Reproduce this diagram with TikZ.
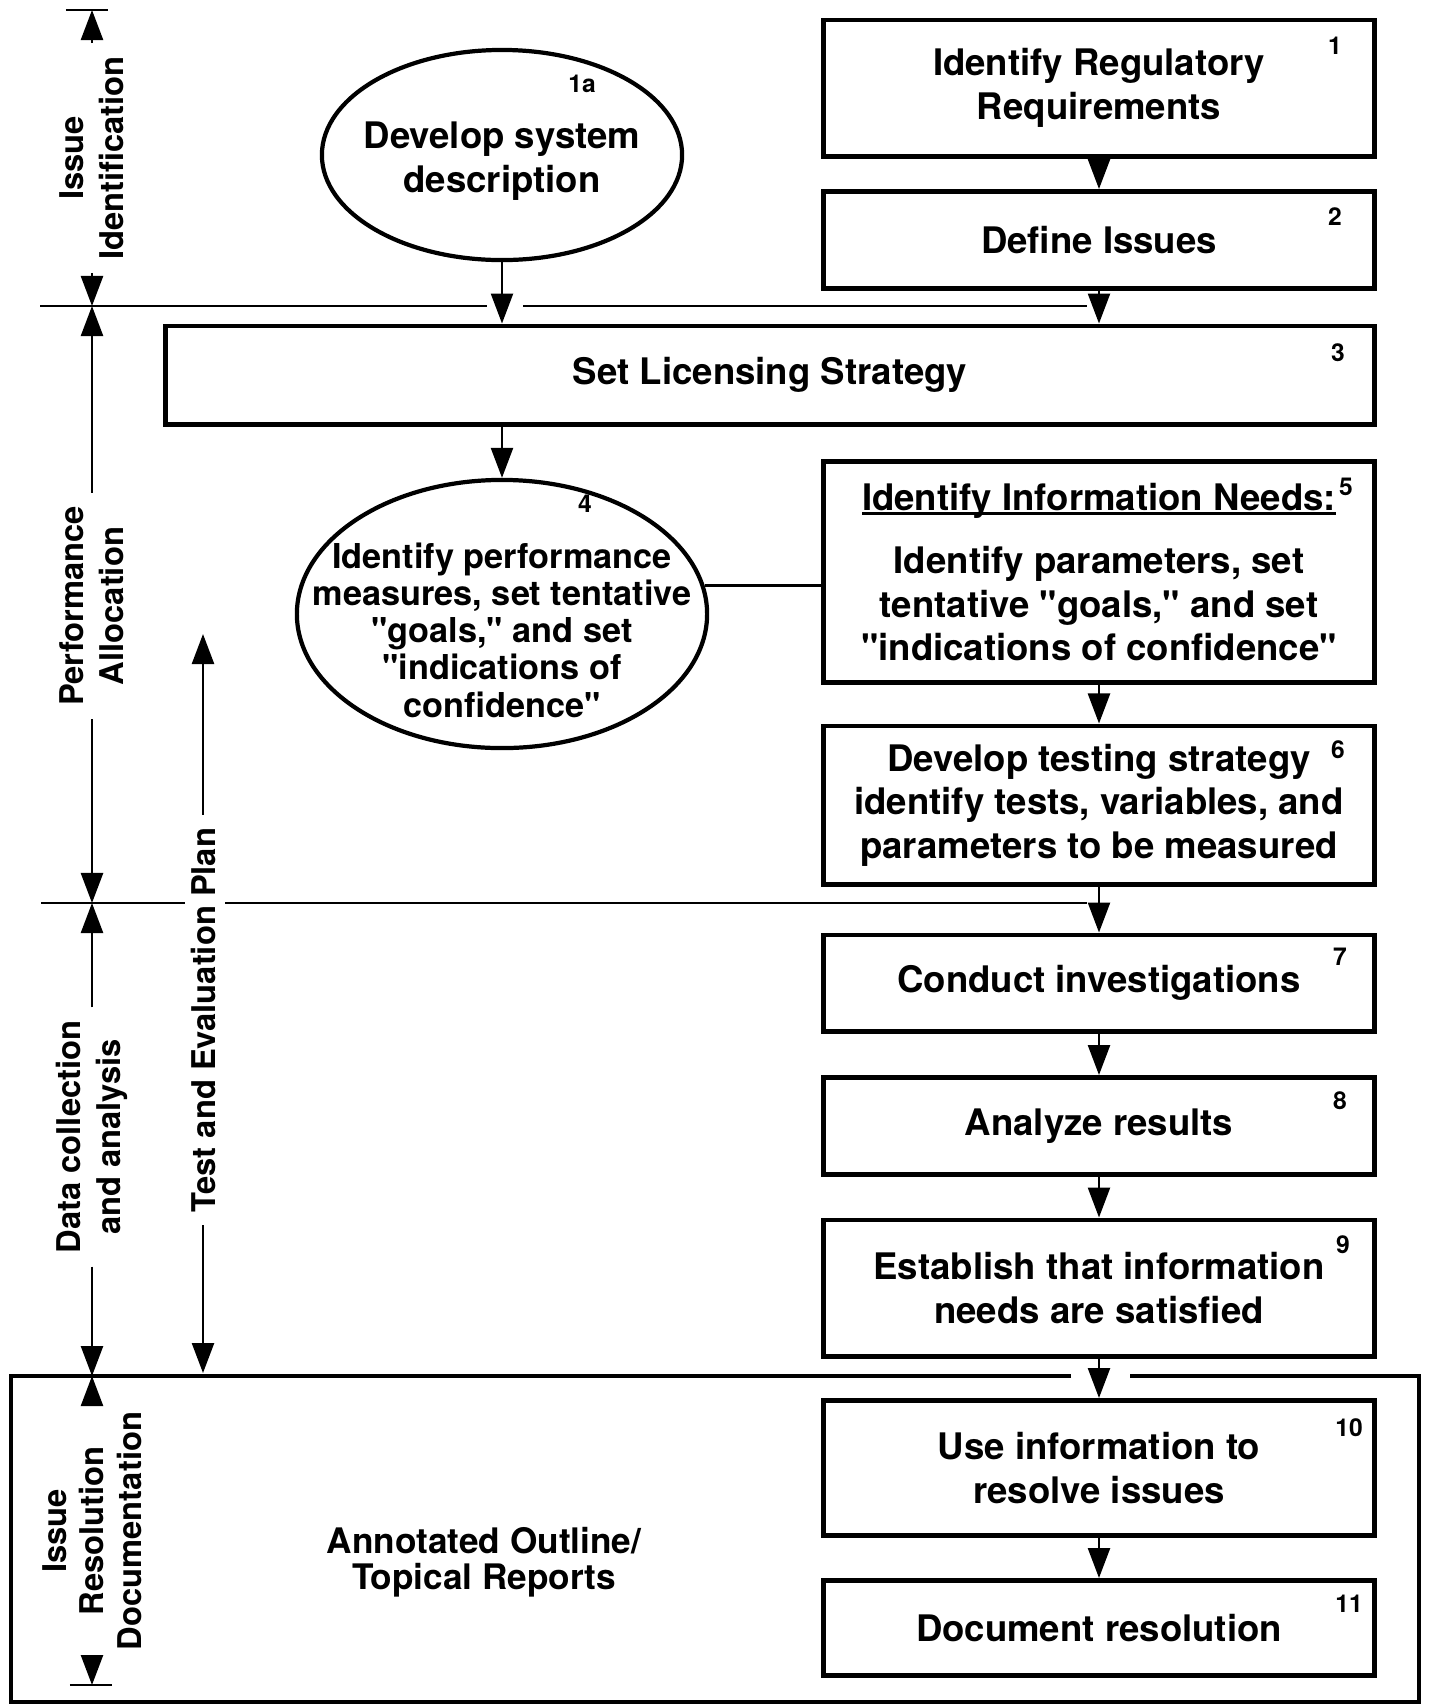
\documentclass[tikz,border=0pt]{standalone}
\usepackage{fontspec}
\setmainfont{TeX Gyre Heros}[Ligatures=TeXOff]
\usetikzlibrary{arrows.meta,shapes.geometric}
\newcommand{\infoline}[1]{\setbox0\hbox{#1}\rlap{\vrule height -0.5pt depth 1.5pt width \wd0}\box0}

\begin{document}
\begin{tikzpicture}[x=0.01cm, y=-0.01cm, thick, >={Triangle[length=3mm,width=2.2mm]},
    box node/.style={draw, line width=1.4pt, minimum width=5.5cm, inner sep=0pt, align=center, font=\fontsize{10.4}{12.4}\selectfont\bfseries},
    oval node/.style={draw, ellipse, line width=1.2pt, inner sep=0pt},
    text node/.style={align=center, inner sep=0pt, font=\fontsize{10.4}{12.4}\selectfont\bfseries},
    num node/.style={inner sep=0pt, font=\fontsize{7}{8}\selectfont\bfseries},
    side node/.style={rotate=90, align=center, font=\fontsize{9.3}{11.4}\selectfont\bfseries},
    flow/.style={->, line width=0.7pt},
    rule/.style={line width=0.7pt}]
    \useasboundingbox (0,0) rectangle (1429,1705);

    \node[box node, minimum height=1.36cm] (b1) at (1099,88) {Identify Regulatory\\Requirements};
    \node[box node, minimum height=0.97cm] (b2) at (1099,240) {Define Issues};
    \node[box node, minimum width=12.08cm, minimum height=0.98cm] (b3) at (770,375) {Set Licensing Strategy};
    \node[box node, minimum height=2.2cm] (b5) at (1099,572) {\infoline{Identify Information Needs:}\\[0.2cm]Identify parameters, set\\tentative "goals," and set\\"indications of confidence"};
    \node[box node, minimum height=1.58cm] (b6) at (1099,805) {Develop testing strategy\\identify tests, variables, and\\parameters to be measured};
    \node[box node, minimum height=0.96cm] (b7) at (1099,983) {Conduct investigations};
    \node[box node, minimum height=0.97cm] (b8) at (1099,1126) {Analyze results};
    \node[box node, minimum height=1.36cm] (b9) at (1099,1288) {Establish that information\\needs are satisfied};
    \node[box node, minimum height=1.35cm] (b10) at (1099,1468) {Use information to\\resolve issues};
    \node[box node, minimum height=0.95cm] (b11) at (1099,1628) {Document resolution};

    \node[oval node, minimum width=3.6cm, minimum height=2.1cm] (e1) at (502,155) {};
    \node[text node] (t1) at (502,161) {Develop system\\description};
    \node[oval node, minimum width=4.1cm, minimum height=2.68cm] (e4) at (502,614) {};
    \node[text node, font=\fontsize{9.75}{10.6}\selectfont\bfseries] (t4) at (502,630) {Identify performance\\measures, set tentative\\"goals," and set\\"indications of\\confidence"};

    \node[num node] (n1a) at (582,84) {1a};
    \node[num node] (n4) at (585,504) {4};
    \node[num node] (n1) at (1335,46) {1};
    \node[num node] (n2) at (1335,217) {2};
    \node[num node] (n3) at (1338,353) {3};
    \node[num node] (n5) at (1346,487) {5};
    \node[num node] (n6) at (1338,750) {6};
    \node[num node] (n7) at (1340,957) {7};
    \node[num node] (n8) at (1340,1101) {8};
    \node[num node] (n9) at (1343,1245) {9};
    \node[num node] (n10) at (1349,1428) {10};
    \node[num node] (n11) at (1349,1604) {11};

    \node[side node] (l1) at (92,158) {Issue\\Identification};
    \node[side node] (l2) at (92,606) {Performance\\Allocation};
    \node[side node] (l3) at (92,1137) {Data collection\\and analysis};
    \node[side node, font=\fontsize{9.3}{10.6}\selectfont\bfseries] (l4) at (92,1531) {Issue\\Resolution\\Documentation};
    \node[side node] (l5) at (203,1020) {Test and Evaluation Plan};
    \node[text node, font=\fontsize{10}{10.2}\selectfont\bfseries] (ann) at (484,1562) {Annotated Outline/\\Topical Reports};

    \coordinate (d0) at (92,10);
    \coordinate (d1) at (92,306);
    \coordinate (d2) at (92,903);
    \coordinate (d3) at (92,1376);
    \coordinate (d4) at (92,1685);
    \coordinate (p0) at (203,634);
    \coordinate (p1) at (203,1373);

    \draw[rule] ([xshift=-0.26cm]d0) -- ([xshift=0.16cm]d0);
    \draw[rule] ([xshift=-0.22cm]d4) -- ([xshift=0.2cm]d4);
    \draw[rule] (40,306) -- (487,306) (523,306) -- (1087,306);
    \draw[rule] (41,903) -- (185,903) (225,903) -- (1087,903);
    \draw[line width=1.3pt] (1071,1376) -- (11,1376) -- (11,1702) -- (1419,1702) -- (1419,1376) -- (1130,1376);

    \draw[flow] (l1) -- (d0);
    \draw[flow] (l1) -- (d1);
    \draw[flow] (l2) -- (d1);
    \draw[flow] (l2) -- (d2);
    \draw[flow] (l3) -- (d2);
    \draw[flow] (l3) -- (d3);
    \draw[flow] (l4) -- (d3);
    \draw[flow] (l4) -- (d4);
    \draw[flow] (l5) -- (p0);
    \draw[flow] (l5) -- (p1);

    \draw[flow] (b1) -- (b2);
    \draw[flow] (b2) -- (b2 |- b3.north);
    \draw[flow] (e1) -- (e1 |- b3.north);
    \draw[flow] (e1 |- b3.south) -- (e4);
    \draw[rule] (e4.8) -- (e4.8 -| b5.west);
    \draw[flow] (b5) -- (b6);
    \draw[flow] (b6) -- (b7);
    \draw[flow] (b7) -- (b8);
    \draw[flow] (b8) -- (b9);
    \draw[flow] (b9) -- (b10);
    \draw[flow] (b10) -- (b11);
\end{tikzpicture}
\end{document}
